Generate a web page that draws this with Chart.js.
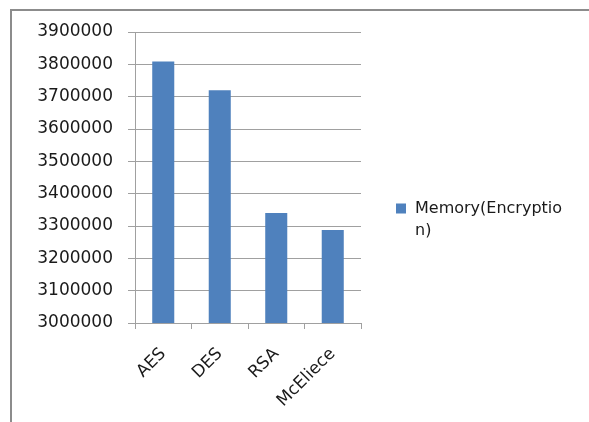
<!DOCTYPE html>
<html>
<head>
<meta charset="utf-8">
<script src="https://cdn.jsdelivr.net/npm/chart.js@4/dist/chart.umd.min.js"></script>
<style>
  html, body { margin: 0; padding: 0; background: #ffffff; overflow: hidden; }
  #wrap { position: relative; width: 589px; height: 422px; overflow: hidden; }
  #frame {
    position: absolute; left: 10px; top: 9px; width: 700px; height: 500px;
    border: 2px solid #8c8c8c; box-sizing: border-box;
  }
  #holder { position: absolute; left: 0; top: 0; width: 589px; height: 422px; }
</style>
</head>
<body>
<div id="wrap">
  <div id="frame"></div>
  <div id="holder"><canvas id="chart" width="589" height="422"></canvas></div>
</div>
<script>
// Categories and measured memory use during encryption
const categories = ['AES', 'DES', 'RSA', 'McEliece'];
const memoryEncryption = [3809000, 3720000, 3340000, 3288000];
const seriesName = 'Memory(Encryption)';

// Value axis range
const yMin = 3000000;
const yMax = 3900000;
const yStep = 100000;

const FONT = 'DejaVu Sans';
const TEXT_COLOR = '#1a1a1a';
const GRID_COLOR = '#a0a0a0';
const BAR_COLOR = '#4F81BD';

// Legend placed to the right of the plot, label wrapped over two lines
const sideLegend = {
  id: 'sideLegend',
  afterDraw(chart) {
    const { ctx, chartArea } = chart;
    const ds = chart.data.datasets[0];
    const x = chartArea.right + 35;
    const y = (chartArea.top + chartArea.bottom) / 2 + 31;
    ctx.save();
    ctx.fillStyle = ds.backgroundColor;
    ctx.fillRect(x, y - 5, 10, 10);
    ctx.fillStyle = TEXT_COLOR;
    ctx.font = '16px "' + FONT + '"';
    ctx.textBaseline = 'middle';
    ctx.textAlign = 'left';
    const lines = [ds.label.slice(0, 16), ds.label.slice(16)];
    lines.forEach((t, i) => ctx.fillText(t, x + 19, y + i * 22));
    ctx.restore();
  }
};

new Chart(document.getElementById('chart'), {
  type: 'bar',
  data: {
    labels: categories,
    datasets: [{
      label: seriesName,
      data: memoryEncryption,
      backgroundColor: BAR_COLOR,
      borderWidth: 0,
      barPercentage: 0.39,
      categoryPercentage: 1.0
    }]
  },
  options: {
    responsive: false,
    animation: false,
    layout: { padding: { left: 0, top: 32, right: 228, bottom: 0 } },
    plugins: {
      legend: { display: false },
      tooltip: { enabled: false }
    },
    scales: {
      x: {
        afterFit(scale) { scale.height = 99; },
        grid: { drawOnChartArea: false, drawTicks: true, tickLength: 6, color: GRID_COLOR, offset: true },
        border: { display: true, color: GRID_COLOR, width: 1 },
        ticks: {
          color: TEXT_COLOR,
          font: { family: FONT, size: 17 },
          minRotation: 45,
          maxRotation: 45,
          padding: 15,
          autoSkip: false
        }
      },
      y: {
        min: yMin,
        max: yMax,
        afterFit(scale) { scale.width = 135; },
        grid: { color: GRID_COLOR, tickLength: 7, drawTicks: true },
        border: { display: true, color: GRID_COLOR, width: 1 },
        ticks: {
          stepSize: yStep,
          color: TEXT_COLOR,
          font: { family: FONT, size: 17 },
          padding: 15,
          callback: (v) => String(v)
        }
      }
    }
  },
  plugins: [sideLegend]
});
</script>
</body>
</html>
